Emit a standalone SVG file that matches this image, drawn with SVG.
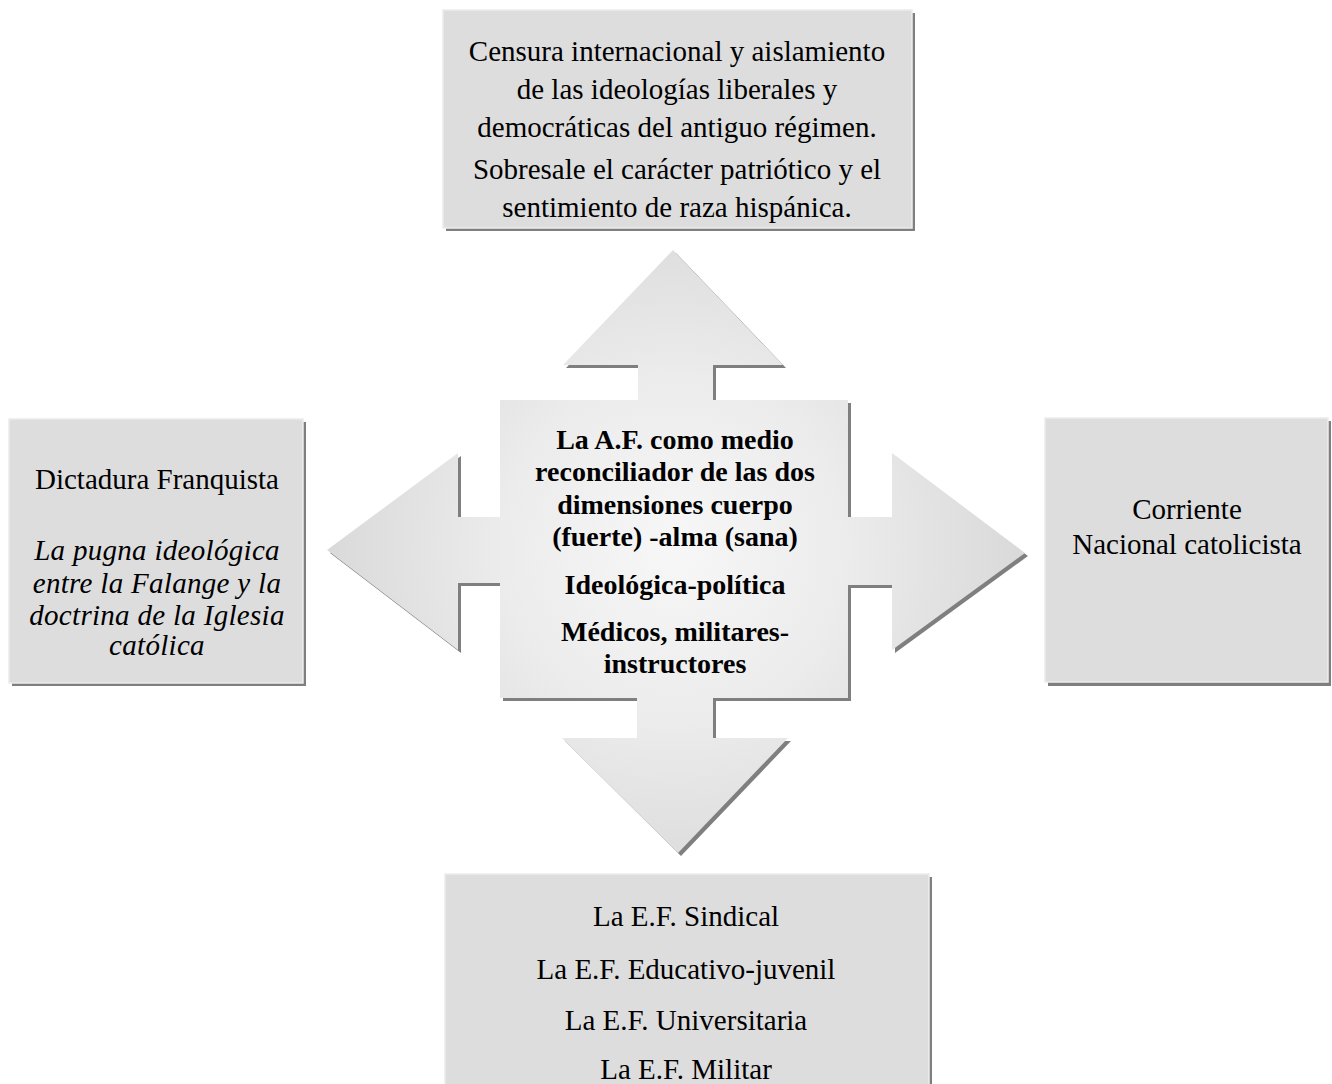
<svg xmlns="http://www.w3.org/2000/svg" width="1332" height="1084" viewBox="0 0 1332 1084">
  <style>
    .box { fill: #dddddd; stroke: #ececec; stroke-width: 1.5; }
    .shadow { fill: #7f7f7f; }
    .t { font-family: "Liberation Serif", "Times New Roman", serif; font-size: 29px; fill: #000; text-anchor: middle; }
    .b { font-weight: bold; font-size: 28px; }
    .i { font-style: italic; letter-spacing: 0.3px; }
  </style>
  <defs>
    <radialGradient id="crossFill" cx="674" cy="549" r="380" gradientUnits="userSpaceOnUse">
      <stop offset="0" stop-color="#f7f7f7"/>
      <stop offset="0.45" stop-color="#ececec"/>
      <stop offset="1" stop-color="#d6d6d6"/>
    </radialGradient>
    <filter id="soft" x="-5%" y="-5%" width="110%" height="110%">
      <feGaussianBlur stdDeviation="0.6"/>
    </filter>
  </defs>

  <!-- central cross of four arrows -->
  <g id="connectors">
    <path id="cross-shadow" class="shadow" filter="url(#soft)" transform="translate(3,3)"
      d="M673,250 L783,365 L713,365 L713,400 L848,400 L848,517 L892,517 L892,453 L1025,553 L892,650 L892,585 L848,585 L848,698 L713,698 L713,738 L788,738 L678,853 L562,738 L637,738 L637,698 L500,698 L500,583 L458,583 L458,650 L327,550 L458,453 L458,517 L500,517 L500,400 L638,400 L638,365 L563,365 Z"/>
    <path id="cross" fill="url(#crossFill)"
      d="M673,250 L783,365 L713,365 L713,400 L848,400 L848,517 L892,517 L892,453 L1025,553 L892,650 L892,585 L848,585 L848,698 L713,698 L713,738 L788,738 L678,853 L562,738 L637,738 L637,698 L500,698 L500,583 L458,583 L458,650 L327,550 L458,453 L458,517 L500,517 L500,400 L638,400 L638,365 L563,365 Z"/>
  </g>

  <!-- central node -->
  <g id="node-center">
    <text class="t b" x="675" y="449">La A.F. como medio</text>
    <text class="t b" x="675" y="481">reconciliador de las dos</text>
    <text class="t b" x="675" y="514">dimensiones cuerpo</text>
    <text class="t b" x="675" y="546">(fuerte) -alma (sana)</text>
    <text class="t b" x="675" y="594">Ideológica-política</text>
    <text class="t b" x="675" y="641">Médicos, militares-</text>
    <text class="t b" x="675" y="673">instructores</text>
  </g>

  <!-- top node -->
  <g id="node-top">
    <rect class="shadow" x="446" y="13" width="469" height="218"/>
    <rect class="box" x="443" y="10" width="469" height="218"/>
    <text class="t" x="677" y="61">Censura internacional y aislamiento</text>
    <text class="t" x="677" y="99">de las ideologías liberales y</text>
    <text class="t" x="677" y="137">democráticas del antiguo régimen.</text>
    <text class="t" x="677" y="179">Sobresale el carácter patriótico y el</text>
    <text class="t" x="677" y="217">sentimiento de raza hispánica.</text>
  </g>

  <!-- left node -->
  <g id="node-left">
    <rect class="shadow" x="12" y="422" width="294" height="264"/>
    <rect class="box" x="9" y="419" width="294" height="264"/>
    <text class="t" x="157" y="489">Dictadura Franquista</text>
    <text class="t i" x="157" y="560">La pugna ideológica</text>
    <text class="t i" x="157" y="593">entre la Falange y la</text>
    <text class="t i" x="157" y="625">doctrina de la Iglesia</text>
    <text class="t i" x="157" y="655">católica</text>
  </g>

  <!-- right node -->
  <g id="node-right">
    <rect class="shadow" x="1048" y="421" width="283" height="265"/>
    <rect class="box" x="1045" y="418" width="283" height="264"/>
    <text class="t" x="1187" y="519">Corriente</text>
    <text class="t" x="1187" y="554">Nacional catolicista</text>
  </g>

  <!-- bottom node -->
  <g id="node-bottom">
    <rect class="shadow" x="448" y="877" width="484" height="220"/>
    <rect class="box" x="445" y="874" width="484" height="220"/>
    <text class="t" x="686" y="926">La E.F. Sindical</text>
    <text class="t" x="686" y="979">La E.F. Educativo-juvenil</text>
    <text class="t" x="686" y="1030">La E.F. Universitaria</text>
    <text class="t" x="686" y="1079">La E.F. Militar</text>
  </g>
</svg>
